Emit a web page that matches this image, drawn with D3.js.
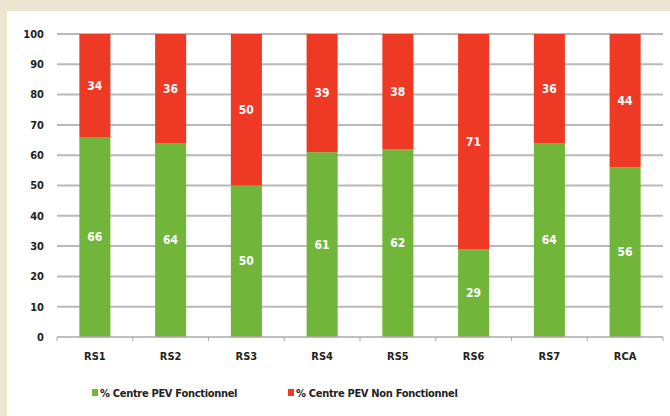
<!DOCTYPE html>
<html>
<head>
<script src="https://cdnjs.cloudflare.com/ajax/libs/d3/7.8.5/d3.min.js"></script>
<style>
body { margin: 0; background: #ece5cf; }
svg { display: block; }
text { font-family: "DejaVu Sans Condensed", "DejaVu Sans", sans-serif; }
.tick-y { font-size: 11px; font-weight: bold; fill: #222; }
.cat { font-size: 11px; font-weight: bold; fill: #222; }
.val { font-size: 12px; font-weight: bold; fill: #fff; }
.leg { font-size: 11px; font-weight: bold; fill: #222; letter-spacing: -0.3px; }
</style>
</head>
<body>
<div id="chart"></div>
<script>
var categories = ["RS1", "RS2", "RS3", "RS4", "RS5", "RS6", "RS7", "RCA"];
var fonctionnel = [66, 64, 50, 61, 62, 29, 64, 56];
var nonFonctionnel = [34, 36, 50, 39, 38, 71, 36, 44];
var yTicks = [0, 10, 20, 30, 40, 50, 60, 70, 80, 90, 100];
var seriesNames = ["% Centre PEV Fonctionnel", "% Centre PEV Non Fonctionnel"];
var seriesColors = ["#72b53b", "#ee3a24"];

var width = 670, height = 416;
var svg = d3.select("#chart").append("svg")
    .attr("width", width)
    .attr("height", height);

svg.append("rect")
    .attr("x", 0).attr("y", 0).attr("width", width).attr("height", height)
    .attr("fill", "#ece5cf");
svg.append("rect")
    .attr("x", 7).attr("y", 11).attr("width", width - 7).attr("height", height - 11)
    .attr("fill", "#ffffff");

var x = d3.scaleBand().domain(categories).range([57, 663]).paddingInner(0.59).paddingOuter(0.295);
var y = d3.scaleLinear().domain([0, 100]).range([337, 34]);

// gridlines
svg.append("g").selectAll("line")
    .data(yTicks.filter(function(d) { return d > 0; }))
    .enter().append("line")
    .attr("x1", 57).attr("x2", 663)
    .attr("y1", function(d) { return y(d); })
    .attr("y2", function(d) { return y(d); })
    .attr("stroke", "#b9b9b9")
    .attr("stroke-width", 2);

// y labels
svg.append("g").selectAll("text")
    .data(yTicks)
    .enter().append("text")
    .attr("class", "tick-y")
    .attr("x", 44)
    .attr("y", function(d) { return y(d); })
    .attr("dy", "0.35em")
    .attr("text-anchor", "end")
    .text(function(d) { return d; });

var stackData = categories.map(function(c, i) {
  return { cat: c, f: fonctionnel[i], n: nonFonctionnel[i] };
});

var bars = svg.append("g");
bars.selectAll("rect.f").data(stackData).enter().append("rect")
    .attr("class", "f")
    .attr("x", function(d) { return x(d.cat); })
    .attr("width", x.bandwidth())
    .attr("y", function(d) { return y(d.f); })
    .attr("height", function(d) { return y(0) - y(d.f); })
    .attr("fill", seriesColors[0]);
bars.selectAll("rect.n").data(stackData).enter().append("rect")
    .attr("class", "n")
    .attr("x", function(d) { return x(d.cat); })
    .attr("width", x.bandwidth())
    .attr("y", function(d) { return y(d.f + d.n); })
    .attr("height", function(d) { return y(d.f) - y(d.f + d.n); })
    .attr("fill", seriesColors[1]);

// value labels
bars.selectAll("text.vf").data(stackData).enter().append("text")
    .attr("class", "val")
    .attr("x", function(d) { return x(d.cat) + x.bandwidth() / 2; })
    .attr("y", function(d) { return y(d.f / 2); })
    .attr("dy", "0.35em")
    .attr("text-anchor", "middle")
    .text(function(d) { return d.f; });
bars.selectAll("text.vn").data(stackData).enter().append("text")
    .attr("class", "val")
    .attr("x", function(d) { return x(d.cat) + x.bandwidth() / 2; })
    .attr("y", function(d) { return y(d.f + d.n / 2); })
    .attr("dy", "0.35em")
    .attr("text-anchor", "middle")
    .text(function(d) { return d.n; });

// x axis
var xa = svg.append("g");
xa.append("line")
    .attr("x1", 57).attr("x2", 663)
    .attr("y1", y(0)).attr("y2", y(0))
    .attr("stroke", "#aaa").attr("stroke-width", 1.5);
var bounds = d3.range(categories.length + 1).map(function(i) { return 57 + i * x.step(); });
xa.selectAll("line.tk").data(bounds).enter().append("line")
    .attr("x1", function(d) { return d; }).attr("x2", function(d) { return d; })
    .attr("y1", y(0)).attr("y2", y(0) + 4)
    .attr("stroke", "#aaa");
xa.selectAll("text").data(categories).enter().append("text")
    .attr("class", "cat")
    .attr("x", function(d) { return x(d) + x.bandwidth() / 2; })
    .attr("y", 356)
    .attr("dy", "0.35em")
    .attr("text-anchor", "middle")
    .text(function(d) { return d; });

// legend
var legX = [92, 288];
var leg = svg.append("g");
seriesNames.forEach(function(name, i) {
  leg.append("rect")
      .attr("x", legX[i]).attr("y", 389).attr("width", 6).attr("height", 7)
      .attr("fill", seriesColors[i]);
  leg.append("text")
      .attr("class", "leg")
      .attr("x", legX[i] + 8).attr("y", 393)
      .attr("dy", "0.35em")
      .text(name);
});
</script>
</body>
</html>
